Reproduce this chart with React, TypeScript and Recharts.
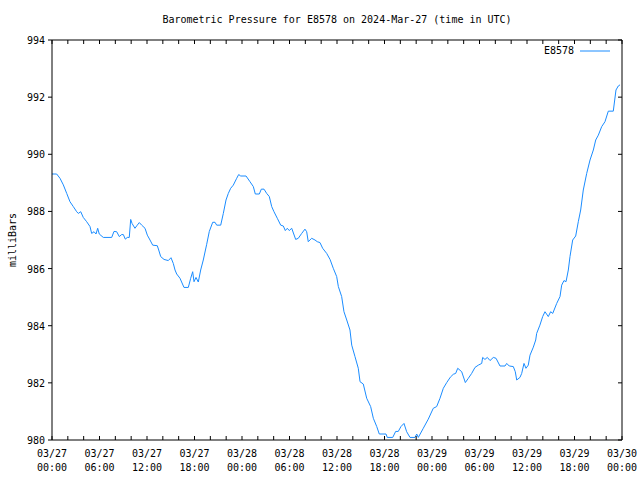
import React from "react";
import { LineChart, Line, XAxis, YAxis, Legend } from "recharts";

// hours since 2024-03-27 00:00 UTC
const hours = [
  0, 0.59, 1.01, 1.43, 1.86, 2.27, 2.69, 3.12, 3.32, 3.63, 3.95, 4.38, 4.8, 5.01, 5.31, 5.56, 5.77, 5.97,
  6.48, 7.54, 7.83, 8.17, 8.5, 8.8, 9.01, 9.26, 9.51, 9.76, 9.94, 10.11, 10.48, 10.77, 11.03, 11.33, 11.75,
  12.04, 12.38, 12.72, 13.3, 13.48, 13.73, 14.15, 14.69, 15.03, 15.32, 15.54, 15.75, 16.17, 16.67, 17.22,
  17.52, 17.77, 17.94, 18.19, 18.48, 18.78, 19.11, 19.54, 19.87, 20.3, 20.59, 20.8, 21.31, 21.64, 21.98,
  22.27, 22.57, 22.9, 23.33, 23.58, 23.84, 24.51, 25.01, 25.43, 25.68, 26.19, 26.44, 26.78, 27.12, 27.45,
  27.75, 28.04, 28.46, 28.89, 29.22, 29.47, 29.72, 29.97, 30.28, 30.78, 31.11, 31.54, 31.95, 32.17, 32.37,
  32.8, 33.22, 33.51, 33.85, 34.19, 34.7, 35.12, 35.53, 35.96, 36.17, 36.59, 36.88, 37.23, 37.64, 37.86,
  38.27, 38.69, 38.91, 39.32, 39.75, 40.25, 40.59, 41.02, 41.34, 42.19, 42.35, 43.04, 43.41, 43.74, 44.08,
  44.46, 44.8, 45.22, 45.85, 46.07, 46.27, 46.9, 47.53, 48.16, 48.59, 49.01, 49.43, 49.86, 50.32, 50.69,
  50.99, 51.25, 51.75, 52.21, 52.59, 53.01, 53.43, 53.85, 54.28, 54.4, 54.69, 54.99, 55.33, 55.75, 56.09,
  56.59, 57.22, 57.44, 57.76, 58.27, 58.52, 58.7, 59.11, 59.33, 59.62, 59.87, 60.16, 60.38, 60.8, 61.1,
  61.22, 61.63, 61.98, 62.27, 62.69, 62.99, 63.25, 63.75, 64.17, 64.38, 64.67, 64.93, 65.22, 65.43, 65.77,
  66.15, 66.48, 66.78, 67.11, 67.54, 67.96, 68.38, 68.68, 69.01, 69.44, 69.85, 70.27, 70.9, 71.24, 71.53,
  71.75,
];

const pressure = [
  989.31, 989.31, 989.16, 988.93, 988.63, 988.34, 988.17, 987.99, 987.93, 987.99, 987.79, 987.64, 987.47,
  987.23, 987.29, 987.21, 987.41, 987.21, 987.09, 987.09, 987.3, 987.29, 987.12, 987.19, 987.19, 987.03,
  987.09, 987.09, 987.72, 987.58, 987.41, 987.52, 987.61, 987.52, 987.41, 987.17, 987.0, 986.82, 986.8,
  986.65, 986.42, 986.32, 986.28, 986.38, 986.18, 985.95, 985.81, 985.66, 985.34, 985.34, 985.66, 985.89,
  985.54, 985.69, 985.53, 985.95, 986.3, 986.85, 987.3, 987.62, 987.62, 987.52, 987.52, 987.93, 988.4,
  988.63, 988.81, 988.92, 989.16, 989.29, 989.24, 989.24, 989.04, 988.87, 988.61, 988.61, 988.78, 988.78,
  988.63, 988.52, 988.17, 987.99, 987.76, 987.52, 987.49, 987.33, 987.41, 987.33, 987.41, 987.02, 987.06,
  987.23, 987.38, 987.29, 986.94, 987.06, 987.0, 986.94, 986.91, 986.71, 986.53, 986.32, 986.01, 985.72,
  985.37, 985.02, 984.49, 984.2, 983.85, 983.32, 982.92, 982.51, 982.04, 981.96, 981.46, 981.17, 980.76,
  980.47, 980.21, 980.21, 980.09, 980.09, 980.3, 980.3, 980.47, 980.58, 980.29, 980.09, 980.09, 980.21,
  980.09, 980.41, 980.73, 981.11, 981.17, 981.46, 981.81, 982.01, 982.2, 982.3, 982.33, 982.51, 982.39,
  982.01, 982.16, 982.33, 982.54, 982.62, 982.68, 982.89, 982.82, 982.89, 982.78, 982.89, 982.86, 982.59,
  982.59, 982.68, 982.59, 982.57, 982.39, 982.1, 982.19, 982.33, 982.68, 982.51, 982.62, 982.97, 983.25,
  983.5, 983.73, 984.02, 984.32, 984.49, 984.32, 984.49, 984.43, 984.78, 985.02, 985.42, 985.58, 985.54,
  985.95, 986.42, 987.0, 987.14, 987.64, 988.05, 988.75, 989.33, 989.8, 990.15, 990.5, 990.67, 990.97,
  991.14, 991.51, 991.51, 992.25, 992.39, 992.43,
];

const xTicks = [
  0, 2, 4, 6, 8, 10, 12, 14, 16, 18, 20, 22, 24, 26, 28, 30, 32, 34, 36, 38, 40, 42, 44, 46, 48, 50, 52,
  54, 56, 58, 60, 62, 64, 66, 68, 70, 72,
];
const yTicks = [980, 982, 984, 986, 988, 990, 992, 994];
const dayLabels = ["03/27", "03/28", "03/29", "03/30"];

const FONT = "'DejaVu Sans Mono', monospace";
const LINE_COLOR = "#1a8cff";

const data = hours.map((h, i) => ({ h, p: pressure[i] }));

function BottomTick(props: any) {
  const { x, y, payload } = props;
  const v = payload.value;
  const hh = String(v % 24).padStart(2, "0");
  return (
    <g>
      <line x1={x} y1={y} x2={x} y2={y - 4} stroke="#000" />
      {v % 6 === 0 && (
        <text x={x} y={y} textAnchor="middle" fontSize={10} fontFamily={FONT} fill="#000">
          <tspan x={x} dy={17}>{dayLabels[Math.floor(v / 24)]}</tspan>
          <tspan x={x} dy={14}>{hh}:00</tspan>
        </text>
      )}
    </g>
  );
}

function TopTick(props: any) {
  const { x, y } = props;
  return <line x1={x} y1={y} x2={x} y2={y + 4} stroke="#000" />;
}

function LeftTick(props: any) {
  const { x, y, payload } = props;
  return (
    <g>
      <line x1={x - 4} y1={y} x2={x} y2={y} stroke="#000" />
      <text x={x - 7} y={y + 4} textAnchor="end" fontSize={10} fontFamily={FONT} fill="#000">
        {payload.value}
      </text>
    </g>
  );
}

function RightTick(props: any) {
  const { x, y } = props;
  return <line x1={x - 4} y1={y} x2={x} y2={y} stroke="#000" />;
}

function LegendBox() {
  return (
    <div
      style={{
        display: "flex",
        alignItems: "center",
        justifyContent: "flex-end",
        fontFamily: FONT,
        fontSize: 10,
        color: "#000",
        lineHeight: "13px",
      }}
    >
      <span>E8578</span>
      <svg width={30} height={10} style={{ marginLeft: 6 }}>
        <line x1={0} y1={5} x2={30} y2={5} stroke={LINE_COLOR} />
      </svg>
    </div>
  );
}

export default function App() {
  return (
    <div style={{ position: "absolute", left: 0, top: 0, width: 640, height: 480, background: "#fff" }}>
      <LineChart width={640} height={480} data={data} margin={{ top: 0, right: 0, bottom: 0, left: 0 }}>
        <XAxis
          dataKey="h"
          type="number"
          domain={[0, 72]}
          ticks={xTicks}
          interval={0}
          height={40}
          tickSize={0}
          tickMargin={0}
          axisLine={{ stroke: "#000" }}
          tickLine={false}
          tick={<BottomTick />}
        />
        <XAxis
          xAxisId="top"
          orientation="top"
          dataKey="h"
          type="number"
          domain={[0, 72]}
          allowDataOverflow
          ticks={xTicks}
          interval={0}
          height={40}
          tickSize={0}
          tickMargin={0}
          axisLine={{ stroke: "#000" }}
          tickLine={false}
          tick={<TopTick />}
        />
        <YAxis
          type="number"
          domain={[980, 994]}
          allowDataOverflow
          ticks={yTicks}
          interval={0}
          width={52}
          tickSize={0}
          tickMargin={0}
          axisLine={{ stroke: "#000" }}
          tickLine={false}
          tick={<LeftTick />}
        />
        <YAxis
          yAxisId="right"
          orientation="right"
          dataKey="p"
          type="number"
          domain={[980, 994]}
          allowDataOverflow
          ticks={yTicks}
          interval={0}
          width={18}
          tickSize={0}
          tickMargin={0}
          axisLine={{ stroke: "#000" }}
          tickLine={false}
          tick={<RightTick />}
        />
        <Legend
          layout="horizontal"
          verticalAlign="middle"
          align="center"
          content={() => <LegendBox />}
          wrapperStyle={{ top: 44, left: 540, width: 70, height: 13 }}
        />
        <Line
          type="linear"
          dataKey="p"
          name="E8578"
          stroke={LINE_COLOR}
          strokeWidth={1}
          dot={false}
          activeDot={false}
          isAnimationActive={false}
        />
      </LineChart>
      <svg
        width={640}
        height={480}
        style={{ position: "absolute", left: 0, top: 0, pointerEvents: "none" }}
      >
        <text x={337} y={23} textAnchor="middle" fontSize={10} fontFamily={FONT} fill="#000">
          Barometric Pressure for E8578 on 2024-Mar-27 (time in UTC)
        </text>
        <text
          x={16}
          y={240}
          textAnchor="middle"
          fontSize={10}
          fontFamily={FONT}
          fill="#000"
          transform="rotate(-90 16 240)"
        >
          milliBars
        </text>
      </svg>
    </div>
  );
}
